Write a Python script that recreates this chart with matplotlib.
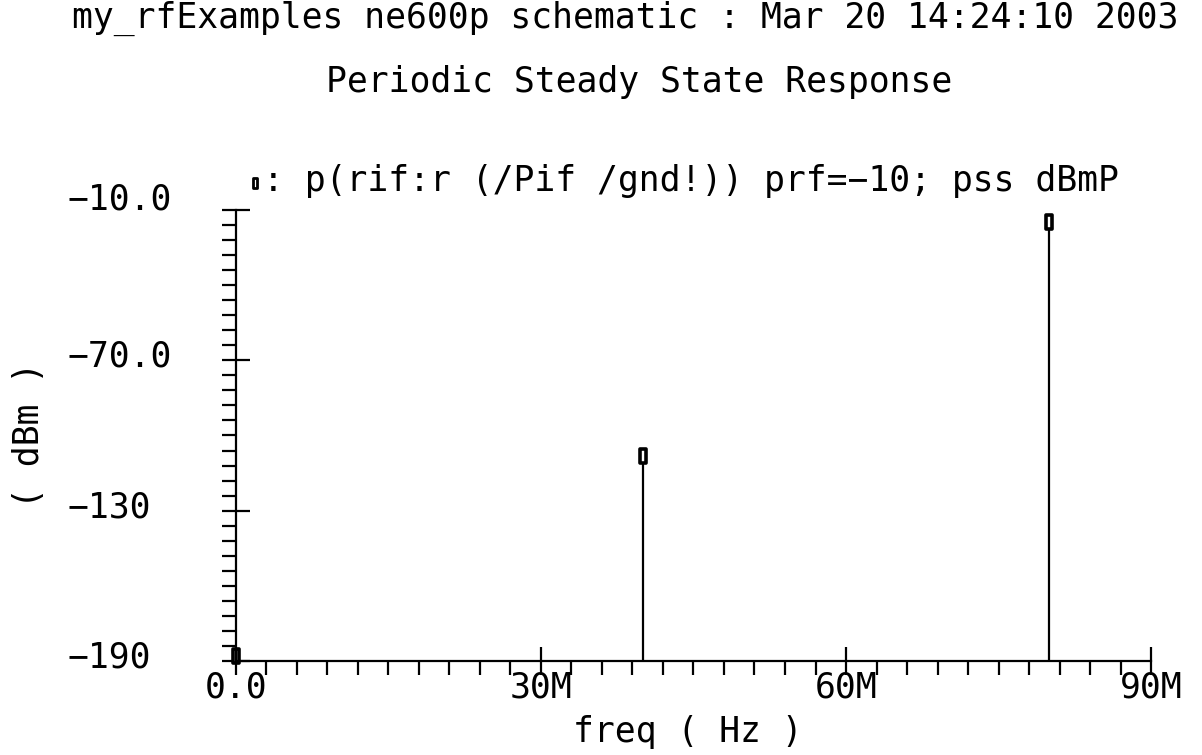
import matplotlib
matplotlib.use("Agg")
import matplotlib.pyplot as plt
from matplotlib.lines import Line2D
from matplotlib.path import Path
from matplotlib.transforms import ScaledTranslation

# harmonics of the PSS output (freq in Hz, power in dBm)
freqs = [0.0, 40e6, 80e6]
power = [-188.0, -108.0, -15.0]

yticks = [-190, -130, -70, -10]
ytick_labels = ["−190", "−130", "−70.0", "−10.0"]
xticks = [0, 30e6, 60e6, 90e6]
xtick_labels = ["0.0", "30M", "60M", "90M"]

title1 = "my_rfExamples ne600p schematic : Mar 20 14:24:10 2003"
title2 = "Periodic Steady State Response"
legend_label = ": p(rif:r (/Pif /gnd!)) prf=−10; pss dBmP"

plt.rcParams['font.family'] = ['DejaVu Sans Mono']
fs = 25

# tall thin box marker like the Cadence one
box = Path([(-0.5, -1), (0.5, -1), (0.5, 1), (-0.5, 1), (-0.5, -1)],
           [Path.MOVETO, Path.LINETO, Path.LINETO, Path.LINETO, Path.CLOSEPOLY])

fig = plt.figure(figsize=(12.02, 7.55), dpi=100)
ax = fig.add_axes([0.1963, 0.1245, 0.7613, 0.5974])

ax.vlines(freqs, -190, power, color='black', linewidth=1.6)
ax.plot(freqs, power, linestyle='none', marker=box, markersize=10,
        markerfacecolor='white', markeredgecolor='black', markeredgewidth=2.6,
        clip_on=False)

ax.set_xlim(0, 90e6)
ax.set_ylim(-190, -10)
for s in ['top', 'right']:
    ax.spines[s].set_visible(False)
for s in ['left', 'bottom']:
    ax.spines[s].set_linewidth(1.6)

ax.set_yticks(yticks)
ax.set_yticklabels(ytick_labels, fontsize=fs, ha='left')
ax.set_yticks(range(-190, -9, 6), minor=True)
ax.set_xticks(xticks)
ax.set_xticklabels(xtick_labels, fontsize=fs)
ax.set_xticks([i * 3e6 for i in range(31)], minor=True)

ax.tick_params(axis='both', which='major', direction='inout', length=20, width=1.6)
ax.tick_params(axis='both', which='minor', direction='out', length=10, width=1.6)
ax.tick_params(axis='y', which='major', pad=111)
ax.tick_params(axis='x', which='major', pad=-3)

# tick labels sit a little above their ticks
for i, lab in enumerate(ax.get_yticklabels()):
    dy = 14 if i == len(yticks) - 1 else 7
    lab.set_transform(lab.get_transform() + ScaledTranslation(0, dy / 100, fig.dpi_scale_trans))

fig.text(0.52, 0.976, title1, fontsize=fs, ha='center', va='center')
fig.text(0.532, 0.891, title2, fontsize=fs, ha='center', va='center')

fig.add_artist(Line2D([0.2125], [0.757], marker=box, markersize=7, linestyle='none',
                      markerfacecolor='white', markeredgecolor='black',
                      markeredgewidth=2, transform=fig.transFigure))
fig.text(0.2185, 0.760, legend_label, fontsize=fs, ha='left', va='center')

fig.text(0.572, 0.030, "freq ( Hz )", fontsize=fs, ha='center', va='center')
fig.text(0.024, 0.424, "( dBm )", fontsize=fs, ha='center', va='center', rotation=90)

fig.savefig("out.png", dpi=100)
